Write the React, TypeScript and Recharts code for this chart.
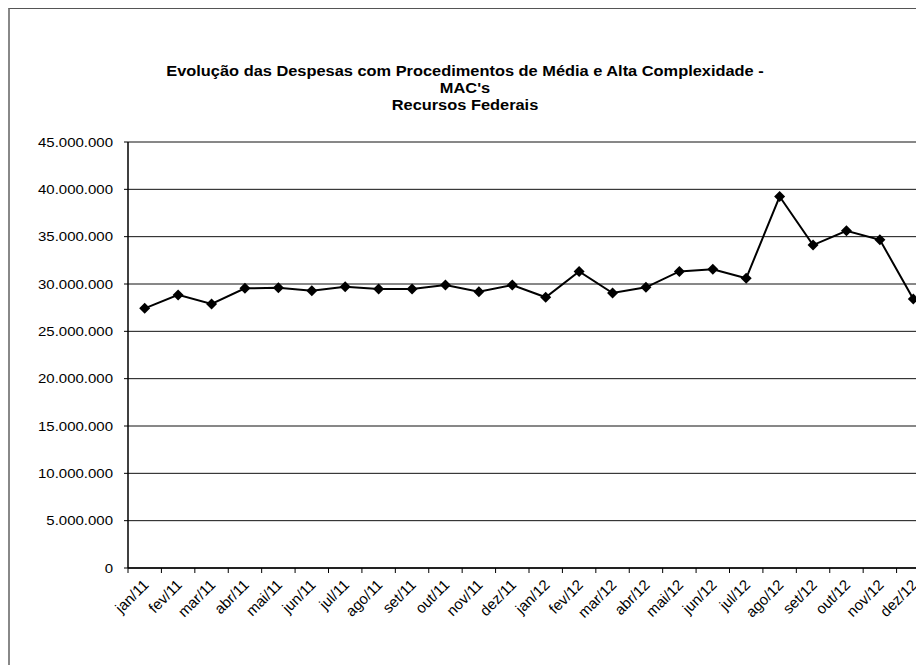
import { CartesianGrid, Line, LineChart, XAxis, YAxis } from 'recharts'

const months = [
  'jan/11', 'fev/11', 'mar/11', 'abr/11', 'mai/11', 'jun/11',
  'jul/11', 'ago/11', 'set/11', 'out/11', 'nov/11', 'dez/11',
  'jan/12', 'fev/12', 'mar/12', 'abr/12', 'mai/12', 'jun/12',
  'jul/12', 'ago/12', 'set/12', 'out/12', 'nov/12', 'dez/12',
]

const despesas = [
  27430000, 28850000, 27900000, 29540000, 29610000, 29300000,
  29720000, 29470000, 29470000, 29900000, 29190000, 29900000,
  28600000, 31330000, 29050000, 29650000, 31330000, 31550000,
  30600000, 39240000, 34110000, 35620000, 34670000, 28420000,
]

const yTicks = [0, 5000000, 10000000, 15000000, 20000000, 25000000, 30000000, 35000000, 40000000, 45000000]

const titleLines = [
  'Evolução das Despesas com Procedimentos de Média e Alta Complexidade -',
  "MAC's",
  'Recursos Federais',
]

const data = months.map((mes, i) => ({ mes, valor: despesas[i] }))

// the reference looks stretched sideways, so text is widened a bit
const STRETCH = 1.2
const CHART_W = 940
const CHART_H = 657
const MARGIN = { top: 134, right: 18, left: 0, bottom: 0 }
const Y_WIDTH = 120
const X_HEIGHT = 97
const BAND = (CHART_W - MARGIN.left - MARGIN.right - Y_WIDTH) / months.length

function formatBR(v: number) {
  return String(v).replace(/\B(?=(\d{3})+(?!\d))/g, '.')
}

function YTick(props: any) {
  const { x, y, payload } = props
  return (
    <text
      transform={`translate(${x},${y}) scale(${STRETCH},1)`}
      textAnchor="end"
      dy="0.36em"
      fontSize={12.5}
      fontFamily="'Liberation Sans', Arial, sans-serif"
      fill="#000"
    >
      {formatBR(payload.value)}
    </text>
  )
}

function XTick(props: any) {
  const { x, y, payload, index } = props
  const left = x - BAND / 2
  return (
    <g>
      <line x1={left} y1={y} x2={left} y2={y + 5} stroke="#000" />
      {index === months.length - 1 && (
        <line x1={x + BAND / 2} y1={y} x2={x + BAND / 2} y2={y + 5} stroke="#000" />
      )}
      <text
        transform={`translate(${x + 1},${y + 14}) rotate(-45)`}
        textAnchor="end"
        dy="0.36em"
        fontSize={15}
        fontFamily="'Liberation Sans', Arial, sans-serif"
        fill="#000"
      >
        {payload.value}
      </text>
    </g>
  )
}

function Diamond(props: any) {
  const { cx, cy, index } = props
  if (cx == null || cy == null) return <g key={index} />
  return (
    <path
      key={index}
      d={`M${cx},${cy - 5.5} L${cx + 5.5},${cy} L${cx},${cy + 5.5} L${cx - 5.5},${cy} Z`}
      fill="#000"
    />
  )
}

export default function App() {
  return (
    <div style={{ position: 'relative', width: 916, height: 657, overflow: 'hidden' }}>
      <div
        style={{
          position: 'absolute',
          left: 0,
          top: 0,
          width: 1000,
          height: 700,
          borderLeft: '2px solid #888',
          borderTop: '1px solid #555',
          boxSizing: 'border-box',
        }}
      />
      <div
        style={{
          position: 'absolute',
          left: 457 - 300,
          top: 55,
          width: 600,
          textAlign: 'center',
          fontFamily: "'Liberation Sans', Arial, sans-serif",
          fontWeight: 'bold',
          fontSize: 14,
          lineHeight: '17px',
          color: '#000',
          transform: 'scaleX(1.17)',
        }}
      >
        {titleLines.map((t) => (
          <div key={t} style={{ whiteSpace: 'nowrap' }}>{t}</div>
        ))}
      </div>
      <div style={{ position: 'absolute', left: 0, top: 0 }}>
        <LineChart width={CHART_W} height={CHART_H} data={data} margin={MARGIN}>
          <CartesianGrid vertical={false} stroke="#111" />
          <XAxis
            dataKey="mes"
            scale="band"
            height={X_HEIGHT}
            interval={0}
            tickSize={0}
            tickMargin={0}
            tickLine={false}
            axisLine={{ stroke: '#000', strokeWidth: 1.5 }}
            tick={<XTick />}
          />
          <YAxis
            width={Y_WIDTH}
            domain={[0, 45000000]}
            ticks={yTicks}
            interval={0}
            tickSize={4}
            tickMargin={11}
            tickLine={{ stroke: '#000' }}
            axisLine={{ stroke: '#000', strokeWidth: 1.5 }}
            tick={<YTick />}
          />
          <Line
            dataKey="valor"
            stroke="#000"
            strokeWidth={2}
            dot={Diamond}
            activeDot={false}
            isAnimationActive={false}
          />
        </LineChart>
      </div>
    </div>
  )
}
